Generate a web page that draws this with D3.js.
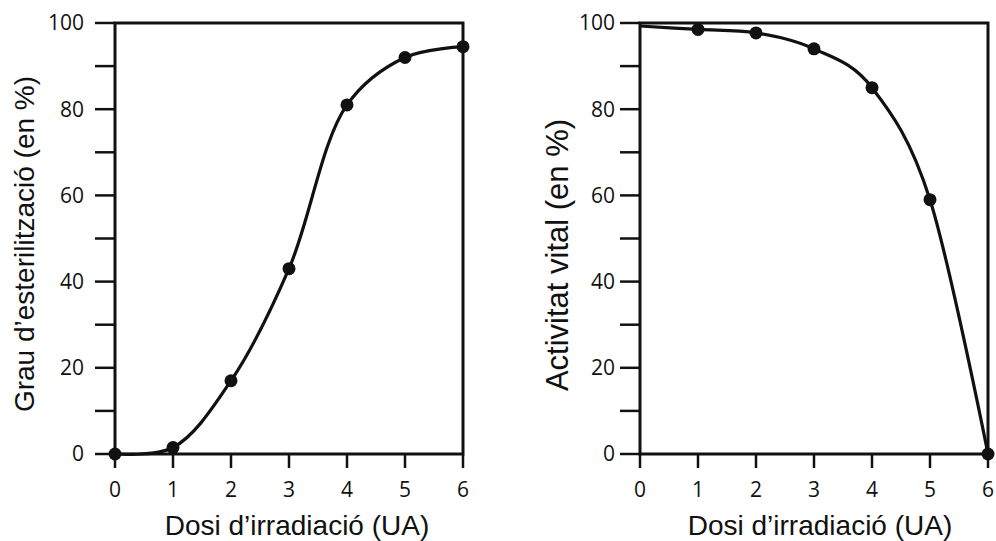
<!DOCTYPE html>
<html>
<head>
<meta charset="utf-8">
<script src="https://cdn.jsdelivr.net/npm/d3@7"></script>
<style>
  body { margin: 0; background: #fff; }
  svg { display: block; }
  .tick-label { font-family: "Open Sans", "Liberation Sans", sans-serif; font-size: 21px; fill: #111; }
  .axis-title { font-family: "Liberation Sans", Arial, sans-serif; font-size: 28px; fill: #111; }
</style>
</head>
<body>
<svg id="chart" width="996" height="541"></svg>
<script>
// dosis (UA)
const doses = [0, 1, 2, 3, 4, 5, 6];
// grau d'esterilització (%)
const sterilization = [0, 1.5, 17, 43, 81, 92, 94.5];
// activitat vital (%) - el primer valor només per la corba
const vitality = [99.3, 98.5, 97.7, 94, 85, 59, 0];
const vitalityDots = [false, true, true, true, true, true, true];

const yMajor = [0, 20, 40, 60, 80, 100];
const yMinor = [10, 30, 50, 70, 90];

const xTitle = "Dosi d\u2019irradiació (UA)";

const svg = d3.select('#chart');

function drawPanel(opts) {
    const x = d3.scaleLinear().domain([0, 6]).range([opts.left, opts.left + 348]);
    const y = d3.scaleLinear().domain([0, 100]).range([454, 23]);
    const g = svg.append('g');

    // marc
    g.append('rect')
        .attr('x', x(0)).attr('y', y(100))
        .attr('width', x(6) - x(0)).attr('height', y(0) - y(100))
        .attr('fill', 'none').attr('stroke', '#111').attr('stroke-width', 3);

    // marques eix Y
    g.selectAll('.ymaj').data(yMajor.concat(yMinor)).enter().append('line')
        .attr('x1', x(0) - 20).attr('x2', x(0))
        .attr('y1', d => y(d)).attr('y2', d => y(d))
        .attr('stroke', '#111').attr('stroke-width', 2.5);

    g.selectAll('.ylab').data(yMajor).enter().append('text')
        .attr('class', 'tick-label')
        .attr('x', x(0) - opts.labelGap).attr('y', d => y(d))
        .attr('dy', '0.35em').attr('text-anchor', 'end')
        .text(d => d);

    // marques eix X
    g.selectAll('.xt').data(doses).enter().append('line')
        .attr('x1', d => x(d)).attr('x2', d => x(d))
        .attr('y1', y(0)).attr('y2', y(0) + 14)
        .attr('stroke', '#111').attr('stroke-width', 2.5);

    g.selectAll('.xlab').data(doses).enter().append('text')
        .attr('class', 'tick-label')
        .attr('x', d => x(d)).attr('y', y(0) + 43)
        .attr('text-anchor', 'middle')
        .text(d => d);

    // títols
    g.append('text').attr('class', 'axis-title')
        .attr('x', opts.xTitleX).attr('y', 535)
        .attr('text-anchor', 'middle')
        .text(xTitle);

    g.append('text').attr('class', 'axis-title')
        .attr('transform', `translate(${opts.yTitleX},${opts.yTitleY}) rotate(-90)`)
        .attr('text-anchor', 'middle')
        .style('font-size', opts.yTitleSize + 'px')
        .text(opts.yTitle);

    // corba suavitzada
    const line = d3.line()
        .x((d, i) => x(doses[i]))
        .y(d => y(d))
        .curve(d3.curveCatmullRom.alpha(opts.alpha));

    g.append('path').datum(opts.values)
        .attr('d', line)
        .attr('fill', 'none').attr('stroke', '#111').attr('stroke-width', 3.2);

    // punts
    g.selectAll('.dot').data(opts.values.map((v, i) => ({ x: doses[i], v: v, show: opts.dots[i] })).filter(d => d.show))
        .enter().append('circle')
        .attr('cx', d => x(d.x)).attr('cy', d => y(d.v))
        .attr('r', 6.5).attr('fill', '#111');
}

drawPanel({
    left: 115,
    values: sterilization,
    dots: [true, true, true, true, true, true, true],
    alpha: 0.5,
    labelGap: 31,
    yTitle: "Grau d\u2019esterilització (en %)",
    yTitleX: 34, yTitleY: 244, yTitleSize: 28,
    xTitleX: 297
});

drawPanel({
    left: 640,
    values: vitality,
    dots: vitalityDots,
    alpha: 0,
    labelGap: 25,
    yTitle: "Activitat vital (en %)",
    yTitleX: 568, yTitleY: 255, yTitleSize: 31,
    xTitleX: 820
});
</script>
</body>
</html>
